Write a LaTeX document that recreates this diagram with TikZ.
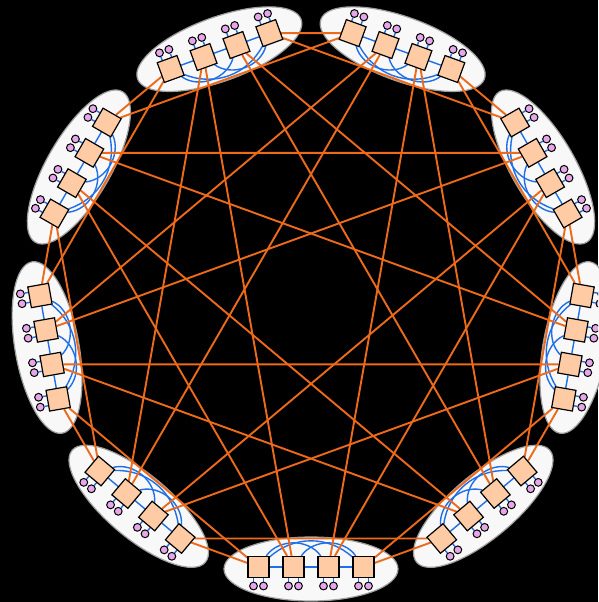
\documentclass[tikz,border=0pt]{standalone}
\usepackage{tikz}
\usetikzlibrary{calc}
\usepackage{xcolor}

\definecolor{routerfill}{HTML}{FFCBA4}
\definecolor{termfill}{HTML}{E6A6EA}
\definecolor{localblue}{HTML}{1F6FE8}
\definecolor{globalorange}{HTML}{EC6A1A}
\definecolor{groupfill}{HTML}{F8F8F8}

\pgfdeclarelayer{canvas}
\pgfdeclarelayer{groups}
\pgfdeclarelayer{links}
\pgfsetlayers{canvas,groups,links,main}

\begin{document}
\begin{tikzpicture}[x=1pt, y=1pt]

        % 1. Sizes of the ring and of a group
        \pgfmathsetmacro{\ringR}{266} % radius of the ring of groups
        \pgfmathsetmacro{\rstep}{35}  % distance between routers in a group

        \tikzset{
          router/.style={draw=black, fill=routerfill, line width=1.2pt, minimum size=21pt, inner sep=0pt, transform shape},
          terminal/.style={draw=black, fill=termfill, circle, line width=1pt, minimum size=7.8pt, inner sep=0pt},
          local/.style={draw=localblue, line width=1.4pt},
          global/.style={draw=globalorange, line width=1.9pt},
          cloud/.style={fill=groupfill, draw=gray!75, line width=1.2pt}
        }

        \useasboundingbox (-311,-301) rectangle (287,301);
        \clip (-311,-301) rectangle (287,301);
        \begin{pgfonlayer}{canvas}
          \fill[black] (-311,-301) rectangle (287,301);
        \end{pgfonlayer}

        % 2. The nine groups: routers, terminals and local links
        \foreach \g in {0,...,8} {
          \pgfmathsetmacro{\ang}{270-40*\g}
          \begin{scope}[shift={(\ang:\ringR)}, rotate=\ang+90]
            \begin{pgfonlayer}{groups}
              \draw[cloud] (0,-2) ellipse (87 and 32);
            \end{pgfonlayer}
            \foreach \r in {1,...,4} {
              \pgfmathsetmacro{\rx}{(\r-2.5)*\rstep}
              \node[router] (g\g-\r) at (\rx,0) {};
              \node[terminal] (t\g-\r-a) at (\rx-5,-19) {};
              \node[terminal] (t\g-\r-b) at (\rx+5,-19) {};
              \coordinate (p\g-\r-a) at (\rx-5,-10);
              \coordinate (p\g-\r-b) at (\rx+5,-10);
              \begin{pgfonlayer}{links}
                \draw[local] (t\g-\r-a) -- (p\g-\r-a);
                \draw[local] (t\g-\r-b) -- (p\g-\r-b);
              \end{pgfonlayer}
            }
            \begin{pgfonlayer}{links}
              \draw[local] (g\g-1) -- (g\g-2) -- (g\g-3) -- (g\g-4);
              \draw[local] (g\g-1) to[bend left=55] (g\g-3);
              \draw[local] (g\g-2) to[bend left=55] (g\g-4);
              \draw[local] (g\g-1) to[bend left=42] (g\g-4);
            \end{pgfonlayer}
          \end{scope}
        }

        % 3. Global links: one between every pair of groups
        \begin{pgfonlayer}{links}
          \foreach \g in {0,...,8} {
            \foreach \k in {1,...,4} {
              \pgfmathtruncatemacro{\h}{mod(\g+\k,9)}
              \pgfmathtruncatemacro{\src}{int((\k-1)/2)+1}
              \pgfmathtruncatemacro{\dst}{int((8-\k)/2)+1}
              \draw[global] (g\g-\src) -- (g\h-\dst);
            }
          }
        \end{pgfonlayer}

\end{tikzpicture}
\end{document}
